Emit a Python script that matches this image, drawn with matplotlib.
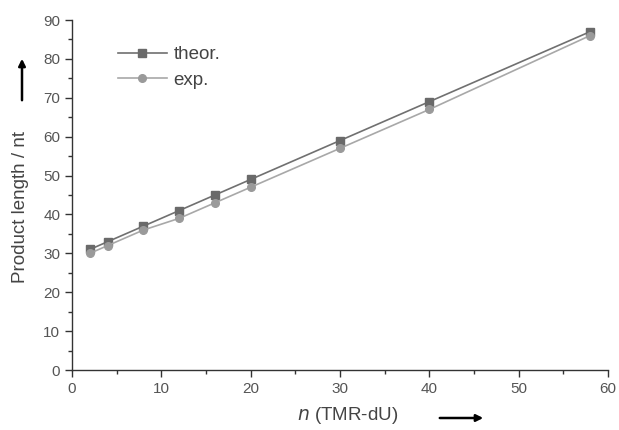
import matplotlib
matplotlib.use("Agg")
import matplotlib.pyplot as plt
from matplotlib.patches import FancyArrowPatch
from matplotlib.ticker import MultipleLocator

# data
n = [2, 4, 8, 12, 16, 20, 30, 40, 58]
theor = [31, 33, 37, 41, 45, 49, 59, 69, 87]
exp = [30, 32, 36, 39, 43, 47, 57, 67, 86]

plt.rcParams['font.family'] = ['Liberation Sans', 'DejaVu Sans']

fig = plt.figure(figsize=(6.19, 4.30), dpi=100)
ax = fig.add_axes([72 / 619, 60 / 430, 536 / 619, 350 / 430])

ax.plot(n, theor, color='#707070', lw=1.2, marker='s', ms=5.5,
        mfc='#6a6a6a', mec='#6a6a6a', label='theor.')
ax.plot(n, exp, color='#a8a8a8', lw=1.2, marker='o', ms=5.5,
        mfc='#9a9a9a', mec='#9a9a9a', label='exp.')

ax.set_xlim(0, 60)
ax.set_ylim(0, 90)
ax.xaxis.set_major_locator(MultipleLocator(10))
ax.xaxis.set_minor_locator(MultipleLocator(5))
ax.yaxis.set_major_locator(MultipleLocator(10))
ax.yaxis.set_minor_locator(MultipleLocator(5))
for s in ['top', 'right']:
    ax.spines[s].set_visible(False)
for s in ['left', 'bottom']:
    ax.spines[s].set_color('#333333')
    ax.spines[s].set_linewidth(1.0)
ax.tick_params(which='major', direction='out', length=5, width=1, colors='#333333',
               labelsize=11, labelcolor='#555555')
ax.tick_params(which='minor', direction='out', length=3, width=1, colors='#333333')

ax.legend(loc='upper left', bbox_to_anchor=(0.072, 0.947), frameon=False,
          fontsize=13.5, handlelength=2.6, handletextpad=0.35, labelspacing=0.45,
          labelcolor='#444444', borderaxespad=0)

fig.text(21 / 619, 1 - 207 / 430, 'Product length / nt', rotation=90,
         ha='center', va='center', fontsize=13.5, color='#444444')
fig.text(297 / 619, 1 - 416 / 430, r'$\it{n}$ (TMR-dU)', ha='left', va='center',
         fontsize=13.5, color='#444444')

# direction arrows next to the axis titles
fig.add_artist(FancyArrowPatch(
    (22 / 619, 1 - 103 / 430), (22 / 619, 1 - 56 / 430), transform=fig.transFigure,
    arrowstyle='-|>', mutation_scale=10, lw=1.8, color='black'))
fig.add_artist(FancyArrowPatch(
    (437 / 619, 1 - 418 / 430), (486 / 619, 1 - 418 / 430), transform=fig.transFigure,
    arrowstyle='-|>', mutation_scale=10, lw=1.8, color='black'))

fig.savefig('out.png', dpi=100)
